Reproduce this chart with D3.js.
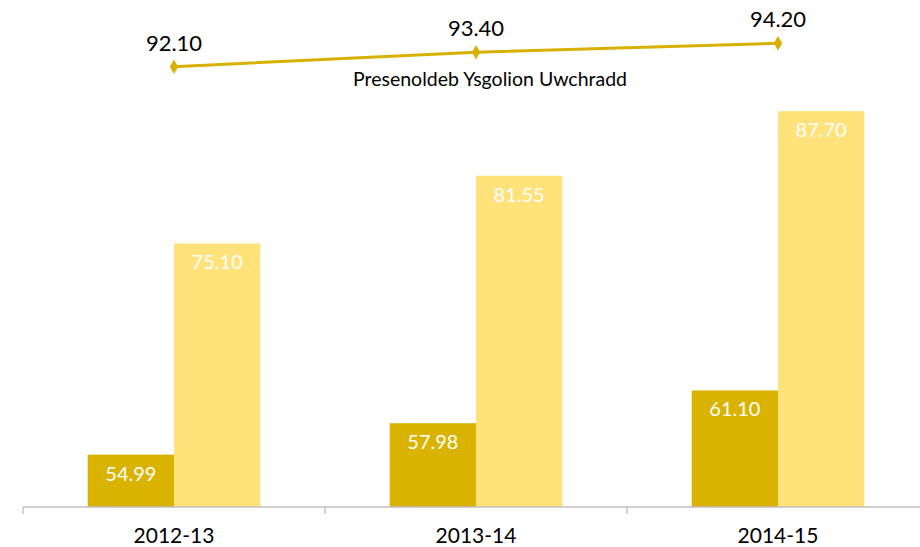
<!DOCTYPE html>
<html>
<head>
<meta charset="utf-8">
<script src="https://cdn.jsdelivr.net/npm/d3@7"></script>
<style>
  body { margin: 0; background: #fff; }
  svg { display: block; font-family: Lato, "Open Sans", sans-serif; }
</style>
</head>
<body>
<svg width="920" height="547"></svg>
<script>
var years = ["2012-13", "2013-14", "2014-15"];
var seriesKeys = ["dark", "light"];
var darkValues = [54.99, 57.98, 61.10];
var lightValues = [75.10, 81.55, 87.70];
var lineValues = [92.10, 93.40, 94.20];
var lineName = "Presenoldeb Ysgolion Uwchradd";

var svg = d3.select("svg"),
    width = +svg.attr("width"),
    height = +svg.attr("height");

var colors = { dark: "#DAB300", light: "#FFE27A" };
var lineColor = "#D8B100";

var baseY = 507;

var x0 = d3.scaleBand()
    .domain(years)
    .range([23, 929])
    .padding(0);

var x1 = d3.scaleBand()
    .domain(seriesKeys)
    .range([0, x0.bandwidth()])
    .paddingInner(0)
    .paddingOuter(0.75);

// bars sit on a 50-based axis
var y = d3.scaleLinear()
    .domain([50, 100])
    .range([baseY, -18]);

// line is on its own (hidden) secondary axis
var y2 = d3.scaleLinear()
    .domain([80, 100])
    .range([201.5, -21.3]);

var rows = years.map(function(yr, i) {
    return { year: yr, dark: darkValues[i], light: lightValues[i], line: lineValues[i] };
});

// bars
var groups = svg.append("g")
    .selectAll("g")
    .data(rows)
    .enter().append("g")
    .attr("transform", function(d) { return "translate(" + x0(d.year) + ",0)"; });

groups.selectAll("rect")
    .data(function(d) {
        return seriesKeys.map(function(k) { return { key: k, value: d[k] }; });
    })
    .enter().append("rect")
    .attr("x", function(d) { return x1(d.key); })
    .attr("y", function(d) { return y(d.value); })
    .attr("width", x1.bandwidth())
    .attr("height", function(d) { return baseY - y(d.value); })
    .attr("fill", function(d) { return colors[d.key]; });

groups.selectAll("text")
    .data(function(d) {
        return seriesKeys.map(function(k) { return { key: k, value: d[k] }; });
    })
    .enter().append("text")
    .attr("x", function(d) { return x1(d.key) + x1.bandwidth() / 2; })
    .attr("y", function(d) { return y(d.value) + 26; })
    .attr("text-anchor", "middle")
    .style("fill", "#fff")
    .style("font-size", "20px")
    .text(function(d) { return d.value.toFixed(2); });

// x axis
var xAxis = d3.axisBottom(x0)
    .tickSize(0)
    .tickPadding(0)
    .tickFormat("");

var axisG = svg.append("g")
    .attr("transform", "translate(0," + baseY + ")")
    .call(xAxis);
axisG.select(".domain").attr("stroke", "#bfbfbf").attr("stroke-width", 1.3).attr("d", "M23,0H929");

// category boundary ticks
svg.append("g")
    .selectAll("line")
    .data(years)
    .enter().append("line")
    .attr("x1", function(d) { return x0(d); })
    .attr("x2", function(d) { return x0(d); })
    .attr("y1", baseY)
    .attr("y2", baseY + 7)
    .attr("stroke", "#bfbfbf")
    .attr("stroke-width", 1.3);

svg.append("g")
    .selectAll("text")
    .data(years)
    .enter().append("text")
    .attr("x", function(d) { return x0(d) + x0.bandwidth() / 2; })
    .attr("y", 543)
    .attr("text-anchor", "middle")
    .style("fill", "#000")
    .style("font-size", "21px")
    .text(function(d) { return d; });

// line series
var line = d3.line()
    .x(function(d) { return x0(d.year) + x0.bandwidth() / 2; })
    .y(function(d) { return y2(d.line); });

svg.append("path")
    .datum(rows)
    .attr("d", line)
    .attr("fill", "none")
    .attr("stroke", lineColor)
    .attr("stroke-width", 3);

svg.append("g")
    .selectAll("path")
    .data(rows)
    .enter().append("path")
    .attr("d", d3.symbol().type(d3.symbolDiamond).size(60))
    .attr("transform", function(d) {
        return "translate(" + (x0(d.year) + x0.bandwidth() / 2) + "," + y2(d.line) + ")";
    })
    .attr("fill", lineColor);

svg.append("g")
    .selectAll("text")
    .data(rows)
    .enter().append("text")
    .attr("x", function(d) { return x0(d.year) + x0.bandwidth() / 2; })
    .attr("y", function(d) { return y2(d.line) - 16; })
    .attr("text-anchor", "middle")
    .style("fill", "#000")
    .style("font-size", "22px")
    .text(function(d) { return d.line.toFixed(2); });

svg.append("text")
    .attr("x", 490)
    .attr("y", 86)
    .attr("text-anchor", "middle")
    .style("fill", "#000")
    .style("font-size", "19.5px")
    .text(lineName);
</script>
</body>
</html>
